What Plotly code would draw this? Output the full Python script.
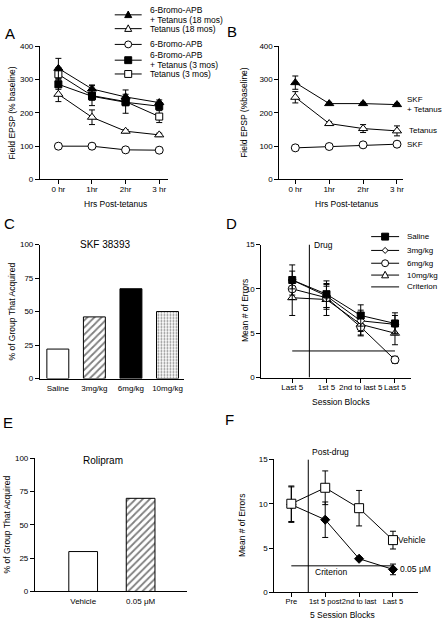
import plotly.graph_objects as go

# ---------------- DATA ----------------
hours = ["0 hr", "1hr", "2hr", "3 hr"]

# Panel A (Field EPSP, % baseline)
a_apb_tet_18 = [334, 272, 248, 231]
a_apb_tet_18_err = [30, 12, 8, 8]
a_tet_18 = [256, 187, 145, 134]
a_tet_18_err = [22, 22, 5, 5]
a_apb = [100, 100, 89, 88]
a_apb_err = [3, 3, 3, 3]
a_apb_tet_3 = [286, 250, 232, 220]
a_apb_tet_3_err = [15, 12, 10, 8]
a_tet_3 = [316, 252, 234, 189]
a_tet_3_err = [20, 30, 35, 18]

# Panel B
b_skf_tet = [291, 228, 228, 225]
b_skf_tet_err = [20, 4, 4, 4]
b_tet = [247, 168, 153, 146]
b_tet_err = [17, 5, 12, 15]
b_skf = [95, 99, 104, 106]
b_skf_err = [3, 3, 3, 3]

# Panel C
c_groups = ["Saline", "3mg/kg", "6mg/kg", "10mg/kg"]
c_pct = [22, 46, 67, 50]

# Panel D (mean # of errors)
d_blocks = ["Last 5", "1st 5", "2nd to last 5", "Last 5"]
d_saline = [11.0, 9.4, 7.0, 6.1]
d_saline_err = [1.7, 1.5, 1.2, 1.2]
d_3mg = [11.0, 9.2, 6.4, 6.0]
d_3mg_err = [1.0, 1.3, 1.2, 1.0]
d_6mg = [10.0, 9.0, 5.7, 2.0]
d_6mg_err = [1.2, 1.3, 0.9, 0.4]
d_10mg = [9.0, 8.8, 6.0, 5.0]
d_10mg_err = [2.0, 1.8, 1.3, 1.3]

# Panel E
e_groups = ["Vehicle", "0.05 μM"]
e_pct = [30, 70]

# Panel F
f_blocks = ["Pre", "1st 5 post", "2nd to last", "Last 5"]
f_vehicle = [10.0, 11.8, 9.5, 5.9]
f_vehicle_err = [2.0, 1.9, 2.0, 1.0]
f_drug = [9.9, 8.2, 3.8, 2.6]
f_drug_err = [2.0, 2.0, 0.15, 0.6]

criterion = 3
drug_onset = 0.5

# ---------------- HELPERS ----------------
W, H = 444, 629
FONT = "Liberation Sans, Arial, Helvetica, sans-serif"
FS = 8.5
TFS = 8


def px(x):
    return x / W


def py(y):
    return 1 - y / H


fig = go.Figure()


def series(ax, ys, errs, symbol, filled, size):
    xs = list(range(len(ys)))
    fig.add_trace(go.Scatter(
        x=xs, y=ys,
        error_y=dict(type="data", array=errs, visible=True, color="black",
                     thickness=1, width=3),
        mode="lines+markers",
        line=dict(color="black", width=1),
        marker=dict(symbol=symbol, size=size,
                    color="black" if filled else "white",
                    line=dict(color="black", width=1)),
        xaxis="x" + ax, yaxis="y" + ax,
        showlegend=False, cliponaxis=False, hoverinfo="skip"))


def bars(ax, values, width, styles):
    for i, v in enumerate(values):
        fill, shape, size, solidity = styles[i]
        marker = dict(color=fill, line=dict(color="black", width=1))
        if shape:
            marker["pattern"] = dict(shape=shape, fgcolor="black",
                                     bgcolor="white", size=size,
                                     solidity=solidity)
        fig.add_trace(go.Bar(x=[i], y=[v], width=width, marker=marker,
                             xaxis="x" + ax, yaxis="y" + ax,
                             showlegend=False, hoverinfo="skip"))


# Panel A
series("", a_apb, a_apb_err, "circle", False, 8)
series("", a_tet_18, a_tet_18_err, "triangle-up", False, 8)
series("", a_tet_3, a_tet_3_err, "square", False, 7)
series("", a_apb_tet_3, a_apb_tet_3_err, "square", True, 7)
series("", a_apb_tet_18, a_apb_tet_18_err, "triangle-up", True, 8)

# Panel B
series("2", b_skf, b_skf_err, "circle", False, 8)
series("2", b_tet, b_tet_err, "triangle-up", False, 8)
series("2", b_skf_tet, b_skf_tet_err, "triangle-up", True, 8)

# Panel C
bars("3", c_pct, 0.6, [("white", None, 0, 0),
                       ("white", "/", 5, 0.35),
                       ("black", None, 0, 0),
                       ("white", ".", 3, 0.3)])

# Panel D
series("4", d_10mg, d_10mg_err, "triangle-up", False, 8)
series("4", d_6mg, d_6mg_err, "circle", False, 8)
series("4", d_3mg, d_3mg_err, "diamond", False, 6)
series("4", d_saline, d_saline_err, "square", True, 7)

# Panel E
bars("5", e_pct, 0.5, [("white", None, 0, 0),
                       ("white", "/", 5, 0.35)])

# Panel F
series("6", f_drug, f_drug_err, "diamond", True, 7)
series("6", f_vehicle, f_vehicle_err, "square", False, 9)

# ---------------- AXES ----------------
axis_common = dict(showline=True, linecolor="black", linewidth=1,
                   ticks="outside", ticklen=4, tickwidth=1, tickcolor="black",
                   showgrid=False, zeroline=False, tickangle=0,
                   tickfont=dict(family=FONT, size=TFS, color="black"))


def set_axes(suffix, xdom, ydom, xr, yr, tickvals, ticktext,
             ydtick, xticks=True, xfont=TFS):
    xa = dict(axis_common, domain=[px(xdom[0]), px(xdom[1])], range=xr,
              tickmode="array", tickvals=tickvals, ticktext=ticktext,
              anchor="y" + suffix, ticklabelstandoff=-2,
              tickfont=dict(family=FONT, size=xfont, color="black"))
    if not xticks:
        xa["ticks"] = ""
        xa["ticklabelstandoff"] = 2
    ya = dict(axis_common, domain=[py(ydom[1]), py(ydom[0])], range=yr,
              dtick=ydtick, tick0=0, anchor="x" + suffix)
    fig.layout["xaxis" + suffix] = xa
    fig.layout["yaxis" + suffix] = ya


set_axes("", (40, 168), (43, 178), [-0.55, 3.25], [0, 400],
         list(range(len(hours))), hours, 100)
set_axes("2", (280, 404), (43, 178), [-0.47, 3.18], [0, 400],
         list(range(len(hours))), hours, 100)
set_axes("3", (40, 184), (244, 380), [-0.49, 3.44], [0, 100],
         list(range(len(c_groups))), c_groups, 25, xticks=False)
set_axes("4", (262, 412), (244, 379), [-0.9, 3.47], [0, 15],
         list(range(len(d_blocks))), d_blocks, 5)
set_axes("5", (35, 187), (461, 596), [-0.84, 1.8], [0, 100],
         list(range(len(e_groups))), e_groups, 25, xticks=False)
set_axes("6", (275, 419), (462, 597), [-0.5, 3.74], [0, 15],
         list(range(len(f_blocks))), f_blocks, 5, xfont=7.5)

# ---------------- SHAPES ----------------
shapes = []


def ref_line(ax, x0, x1, y0, y1):
    shapes.append(dict(type="line", xref="x" + ax, yref="y" + ax,
                       x0=x0, x1=x1, y0=y0, y1=y1,
                       line=dict(color="black", width=1)))


ref_line("4", drug_onset, drug_onset, 0, 15)
ref_line("4", 0, 3, criterion, criterion)
ref_line("6", drug_onset, drug_onset, 0, 15)
ref_line("6", 0, 3, criterion, criterion)


def legend_key(x0, x1, y, sym, filled, size):
    shapes.append(dict(type="line", xref="paper", yref="paper",
                       x0=px(x0), x1=px(x1), y0=py(y), y1=py(y),
                       line=dict(color="black", width=1)))
    if sym is None:
        return
    cx = (x0 + x1) / 2
    r = size / 2
    fill = "black" if filled else "white"
    st = dict(xref="paper", yref="paper", fillcolor=fill,
              line=dict(color="black", width=1))
    if sym == "circle":
        shapes.append(dict(st, type="circle", x0=px(cx - r), x1=px(cx + r),
                           y0=py(y + r), y1=py(y - r)))
    elif sym == "square":
        shapes.append(dict(st, type="rect", x0=px(cx - r), x1=px(cx + r),
                           y0=py(y + r), y1=py(y - r)))
    else:
        if sym == "triangle":
            pts = [(cx, y - r * 1.1), (cx + r, y + r * 0.8), (cx - r, y + r * 0.8)]
        else:
            pts = [(cx, y - r), (cx + r, y), (cx, y + r), (cx - r, y)]
        path = "M " + " L ".join(f"{px(a):.5f},{py(b):.5f}" for a, b in pts) + " Z"
        shapes.append(dict(st, type="path", path=path))


annotations = []


def text(x, y, s, size=FS, xanchor="left", yanchor="middle", angle=0):
    annotations.append(dict(x=px(x), y=py(y), xref="paper", yref="paper",
                            text=s, showarrow=False, xanchor=xanchor,
                            yanchor=yanchor, textangle=angle, borderpad=0,
                            font=dict(family=FONT, size=size, color="black")))


# Legend A
legA = [
    (["6-Bromo-APB", "+ Tetanus (18 mos)"], 11, "triangle", True),
    (["Tetanus (18 mos)"], 25, "triangle", False),
    (["6-Bromo-APB"], 41, "circle", False),
    (["6-Bromo-APB", "+ Tetanus (3 mos)"], 57, "square", True),
    (["Tetanus (3 mos)"], 71, "square", False),
]
for lines, y, sym, filled in legA:
    legend_key(115, 142, y, sym, filled, 7)
    if len(lines) == 1:
        text(149, y, lines[0])
    else:
        text(149, y - 5, lines[0])
        text(149, y + 5, lines[1])

# Legend D
legD = [
    ("Saline", 236, "square", True, 7),
    ("3mg/kg", 250, "diamond", False, 6),
    ("6mg/kg", 263, "circle", False, 7),
    ("10mg/kg", 275, "triangle", False, 7),
    ("Criterion", 287, None, False, 0),
]
for label, y, sym, filled, sz in legD:
    legend_key(372, 400, y, sym, filled, sz)
    text(407, y, label, size=8)

# Panel letters
for letter, x, y in [("A", 10, 30), ("B", 233, 28), ("C", 10, 223),
                     ("D", 232, 223), ("E", 8, 425), ("F", 230, 422)]:
    text(x, y, letter, size=15, xanchor="center")

# Axis titles
text(116, 203, "Hrs Post-tetanus", xanchor="center")
text(347, 203, "Hrs Post-tetanus", xanchor="center")
text(342, 404, "Session Blocks", xanchor="center")
text(343, 620, "5 Session Blocks", xanchor="center")
text(12, 110, "Field EPSP (% baseline)", xanchor="center", angle=-90)
text(245, 110, "Field EPSP (%baseline)", xanchor="center", angle=-90)
text(12, 312, "% of Group That Acquired", xanchor="center", angle=-90)
text(245, 311, "Mean # of Errors", xanchor="center", angle=-90)
text(7, 528, "% of Group That Acquired", xanchor="center", angle=-90)
text(243, 529, "Mean # of Errors", xanchor="center", angle=-90)

# Panel titles / labels
text(105, 244, "SKF 38393", size=10, xanchor="center")
text(103, 463, "Rolipram", size=10, xanchor="center")
text(314, 244, "Drug")
text(312, 455, "Post-drug")


def data_label(ax, xi, yv, s, xshift, yshift=0, size=FS):
    annotations.append(dict(x=xi, y=yv, xref="x" + ax, yref="y" + ax, text=s,
                            showarrow=False, xanchor="left", yanchor="middle",
                            align="left", xshift=xshift, yshift=yshift,
                            borderpad=0,
                            font=dict(family=FONT, size=size, color="black")))


data_label("2", 3, b_skf_tet[-1], "SKF", 9, 5, size=8)
data_label("2", 3, b_skf_tet[-1], "+ Tetanus", 9, -5, size=8)
data_label("2", 3, b_tet[-1], "Tetanus", 11, size=8)
data_label("2", 3, b_skf[-1], "SKF", 9, size=8)
data_label("6", 3, f_vehicle[-1], "Vehicle", 4)
data_label("6", 3, f_drug[-1], "0.05 μM", 6)
data_label("6", 0.68, criterion, "Criterion", 0, -6)

fig.update_layout(
    width=W, height=H, margin=dict(l=0, r=0, t=0, b=0),
    paper_bgcolor="white", plot_bgcolor="white",
    shapes=shapes, annotations=annotations, showlegend=False,
    font=dict(family=FONT, size=FS, color="black"),
)

fig.write_html(
    "out.html",
    config={"displayModeBar": False, "staticPlot": True},
    post_script="document.body.style.margin='0';"
                "document.body.style.overflow='hidden';",
)
